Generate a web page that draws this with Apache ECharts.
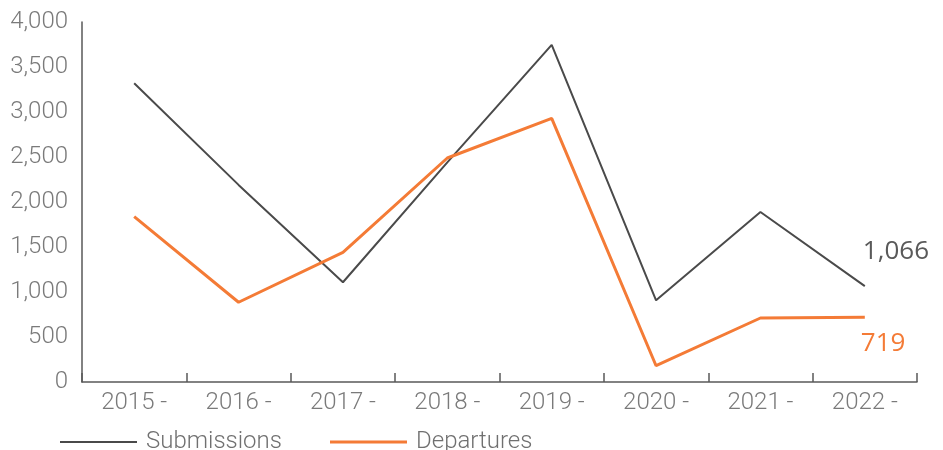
<!DOCTYPE html>
<html>
<head>
<meta charset="utf-8">
<script src="https://cdn.jsdelivr.net/npm/echarts@6/dist/echarts.min.js"></script>
<style>html,body{margin:0;padding:0;background:#fff;}#c{width:943px;height:450px;}</style>
</head>
<body>
<div id="c"></div>
<script>
const categories = ['2015 -', '2016 -', '2017 -', '2018 -', '2019 -', '2020 -', '2021 -', '2022 -'];
const submissions = [3320, 2190, 1108, 2440, 3745, 908, 1889, 1066];
const departures = [1837, 886, 1441, 2489, 2930, 181, 711, 719];
const yTicks = [0, 500, 1000, 1500, 2000, 2500, 3000, 3500, 4000];

const AXIS_FONT = 'Roboto, "Liberation Sans", sans-serif';
const LABEL_FONT = '"Open Sans", "Noto Sans", sans-serif';
const GREY = '#4a4a4a';
const ORANGE = '#F47B36';
const fmt = (v) => Number(v).toLocaleString('en-US');

const chart = echarts.init(document.getElementById('c'), null, { renderer: 'canvas' });
chart.setOption({
  animation: false,
  grid: { left: 82, right: 26, top: 22, bottom: 68, containLabel: false },
  legend: [
    {
      data: ['Submissions'], left: 55, top: 425, icon: 'rect', itemWidth: 77, itemHeight: 2,
      textStyle: { fontFamily: AXIS_FONT, fontWeight: 300, fontSize: 24, color: '#707070', padding: [0, 0, 0, 4] }
    },
    {
      data: ['Departures'], left: 325, top: 425, icon: 'rect', itemWidth: 77, itemHeight: 3,
      textStyle: { fontFamily: AXIS_FONT, fontWeight: 300, fontSize: 24, color: '#707070', padding: [0, 0, 0, 4] }
    }
  ],
  xAxis: {
    type: 'category',
    data: categories,
    boundaryGap: true,
    axisLine: { show: true, lineStyle: { color: '#595959', width: 1.5 } },
    axisTick: { show: true, inside: true, length: 9, lineStyle: { color: '#595959', width: 1.5 } },
    axisLabel: { fontFamily: AXIS_FONT, fontWeight: 300, fontSize: 24, color: '#7a7a7a', margin: 9 },
    splitLine: { show: false }
  },
  yAxis: {
    type: 'value',
    min: yTicks[0],
    max: yTicks[yTicks.length - 1],
    interval: yTicks[1] - yTicks[0],
    axisLine: { show: true, lineStyle: { color: '#595959', width: 1.5 } },
    axisTick: { show: false },
    splitLine: { show: false },
    axisLabel: {
      fontFamily: AXIS_FONT, fontWeight: 300, fontSize: 24, color: '#7a7a7a', margin: 14,
      padding: [6, 0, 0, 0],
      formatter: fmt
    }
  },
  series: [
    {
      name: 'Submissions', type: 'line', symbol: 'none',
      lineStyle: { color: GREY, width: 2 }, itemStyle: { color: GREY },
      endLabel: {
        show: true, formatter: (p) => fmt(p.value), offset: [-10, -34],
        fontFamily: LABEL_FONT, fontSize: 26, color: '#595959'
      },
      data: submissions
    },
    {
      name: 'Departures', type: 'line', symbol: 'none',
      lineStyle: { color: ORANGE, width: 3 }, itemStyle: { color: ORANGE },
      endLabel: {
        show: true, formatter: (p) => fmt(p.value), offset: [-12, 26],
        fontFamily: LABEL_FONT, fontSize: 26, color: ORANGE
      },
      data: departures
    }
  ]
});
</script>
</body>
</html>
